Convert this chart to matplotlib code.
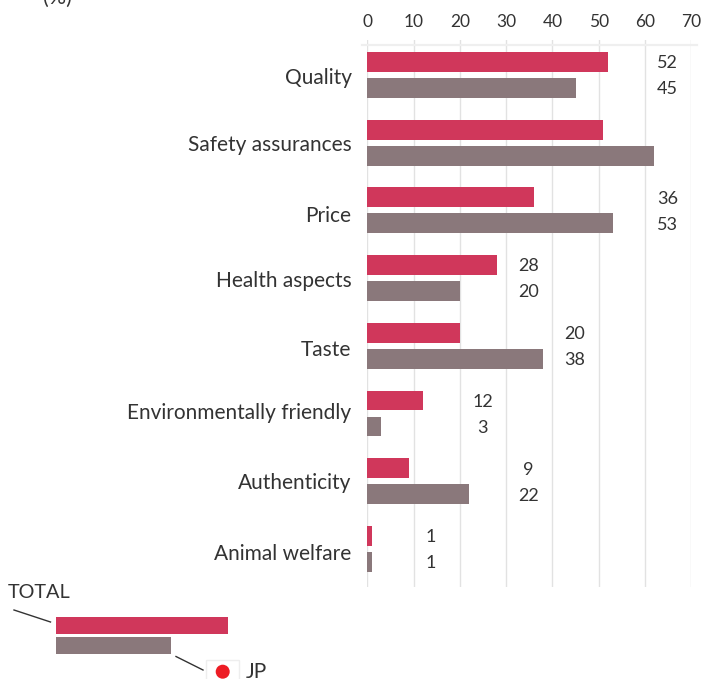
import matplotlib

matplotlib.use("Agg")
import matplotlib.pyplot as plt
from matplotlib.patches import Circle, Rectangle

W, H = 701, 679

categories = ["Quality", "Safety assurances", "Price", "Health aspects", "Taste",
              "Environmentally friendly", "Authenticity", "Animal welfare"]
total = [52, 51, 36, 28, 20, 12, 9, 1]
jp = [45, 62, 53, 20, 38, 3, 22, 1]
# the source prints no numbers for the second row
total_labels = ["52", "", "36", "28", "20", "12", "9", "1"]
jp_labels = ["45", "", "53", "20", "38", "3", "22", "1"]
# value labels sit in odd places in the original, x in axis units
label_x = [64.9, 0, 64.9, 34.8, 44.8, 24.9, 34.8, 13.8]
ticks = [0, 10, 20, 30, 40, 50, 60, 70]
# category label offsets from the group centre, in rows
label_nudge = [0.05, 0.03, 0.09, 0.05, 0.06, 0.0, 0.03, 0.08]

RED = "#d0375b"
GREY = "#8a787b"
TEXT = "#333333"
GRID = "#e2e2e2"

plt.rcParams["font.family"] = ["Lato", "DejaVu Sans"]

fig = plt.figure(figsize=(W / 100, H / 100), dpi=100)
ax = fig.add_axes([367.3 / W, 1 - 587 / H, 324 / W, 547 / H])
ax.set_xlim(0, 70)
ax.set_ylim(7.563, -0.517)

ypos = range(len(categories))
ax.barh([y - 0.192 for y in ypos], total, height=0.295, color=RED, zorder=3)
ax.barh([y + 0.192 for y in ypos], jp, height=0.295, color=GREY, zorder=3)

for i in ypos:
    ax.text(label_x[i], i - 0.172, total_labels[i], ha="center", va="center",
            fontsize=13, color=TEXT)
    ax.text(label_x[i], i + 0.212, jp_labels[i], ha="center", va="center",
            fontsize=13, color=TEXT)
    ax.text(-3.4, i + label_nudge[i], categories[i], ha="right", va="center",
            fontsize=15, color=TEXT)

for s in ax.spines.values():
    s.set_visible(False)
ax.set_yticks([])
ax.set_xticks(ticks)
ax.xaxis.tick_top()
ax.tick_params(axis="x", length=0, pad=7, labelsize=12.5, labelcolor=TEXT)
ax.grid(axis="x", color=GRID, lw=1, zorder=0)
ax.set_axisbelow(True)

# overlay in pixel coordinates for the header rule and the key
over = fig.add_axes([0, 0, 1, 1], facecolor="none")
over.set_xlim(0, W)
over.set_ylim(H, 0)
over.axis("off")
over.plot([362, 697], [45, 45], color="#efefef", lw=1.6, zorder=1)
over.text(8, 593, "TOTAL", fontsize=14.3, color=TEXT, va="center")
over.plot([14, 50.5], [610, 622], color=TEXT, lw=1)
over.add_patch(Rectangle((56, 617.3), 171.5, 16.8, fc=RED, lw=0))
over.add_patch(Rectangle((56, 637), 114.5, 17.2, fc=GREY, lw=0))
over.plot([176, 203], [656.5, 670], color=TEXT, lw=1)
over.add_patch(Rectangle((206, 660), 33, 24, fc="white", ec="#eeeeee", lw=1))
over.add_patch(Circle((222.7, 671.7), 7, fc="#ed1c24", lw=0))
over.text(246, 672, "JP", fontsize=15, color=TEXT, va="center")
over.text(43, -2.5, "(%)", fontsize=15.5, color=TEXT, va="center")

fig.savefig("out.png", dpi=100)
